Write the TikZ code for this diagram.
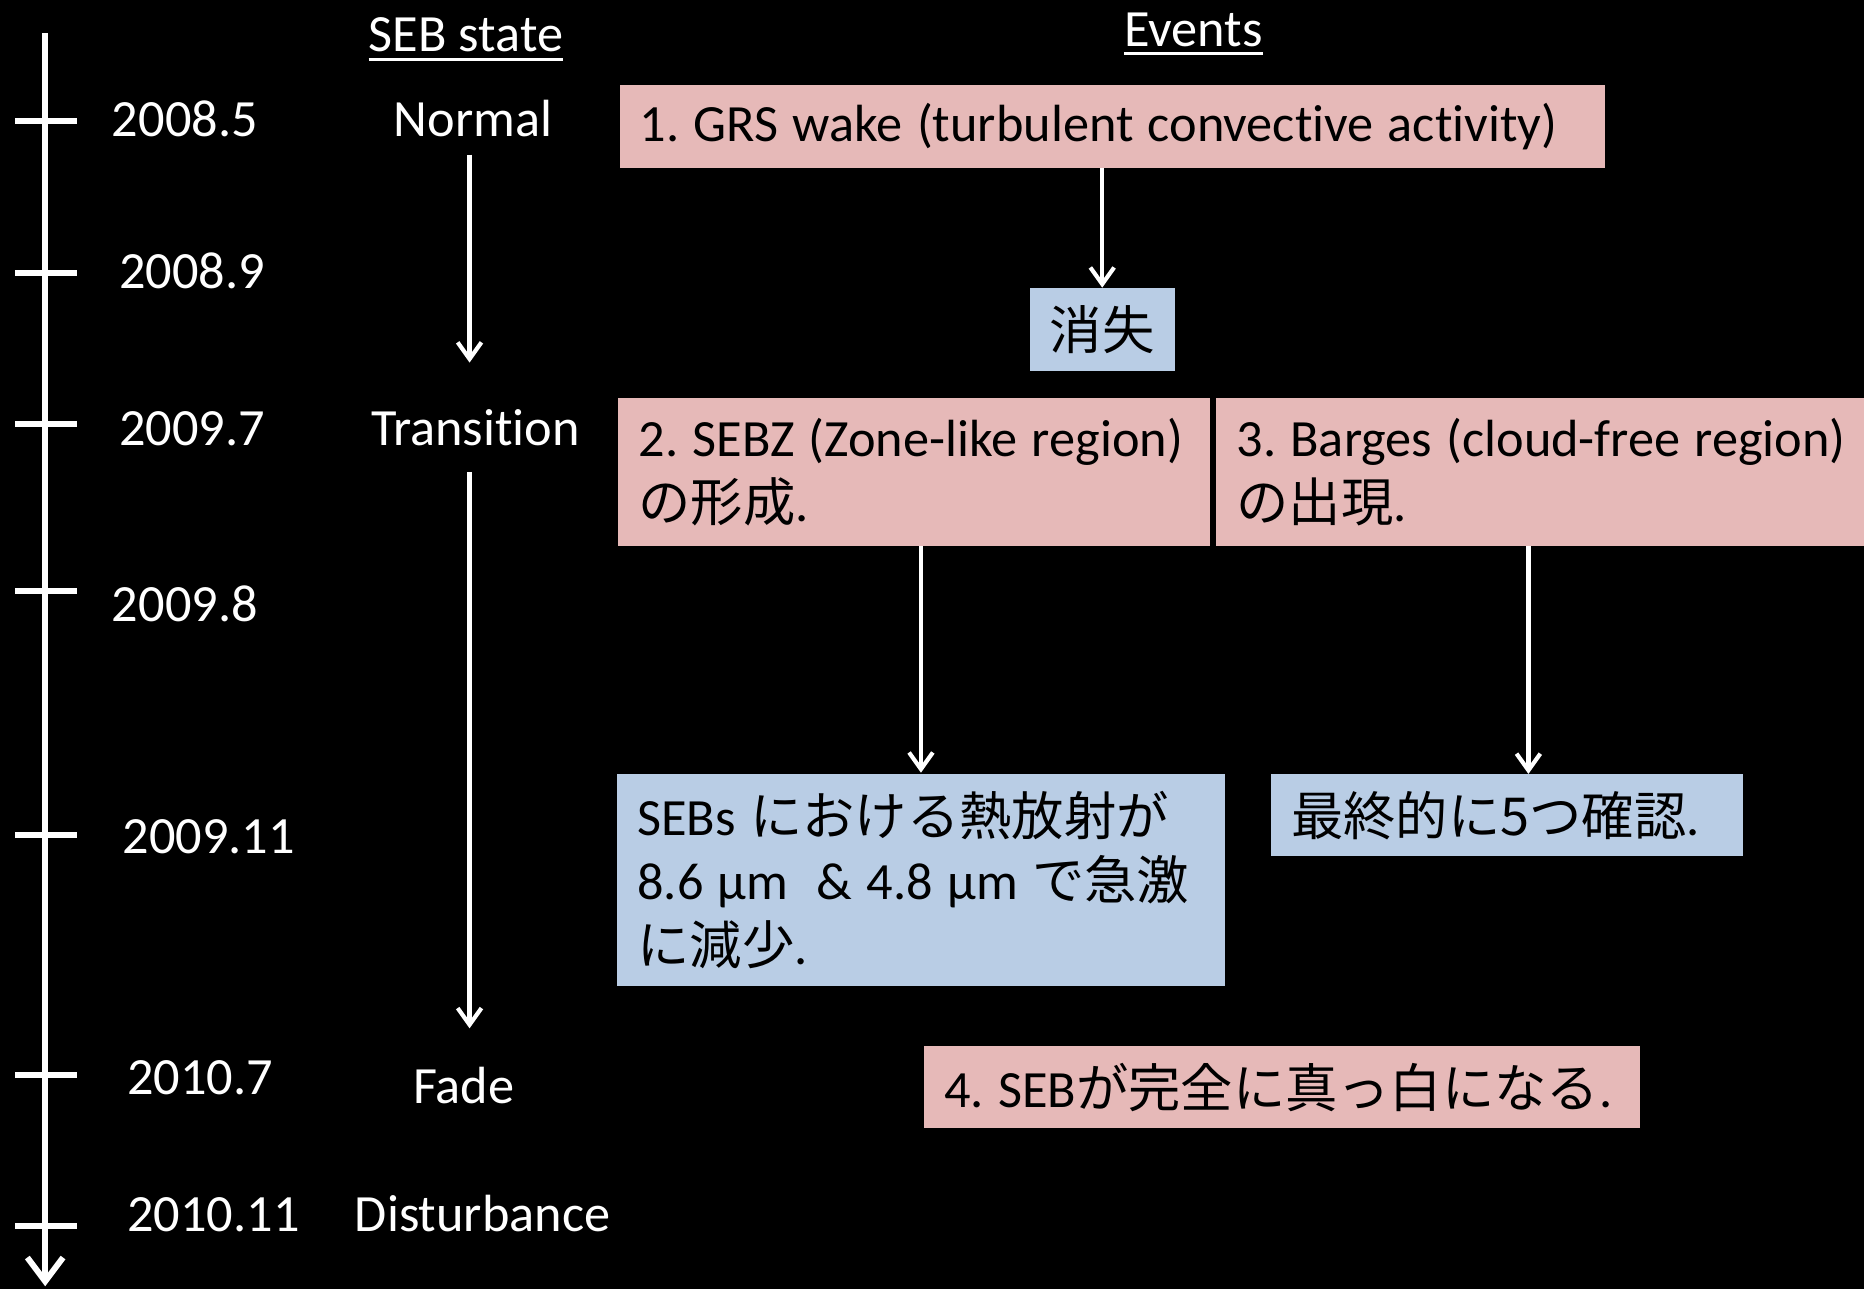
\documentclass[tikz,border=0pt]{standalone}
\usepackage{fontspec}
\setmainfont{Carlito}[Ligatures=CommonOff]
\newfontfamily\cjk{Noto Sans CJK JP}
\usetikzlibrary{arrows.meta,calc}
\definecolor{pinkbox}{HTML}{E6B9B8}
\definecolor{bluebox}{HTML}{B9CDE5}
\frenchspacing
\newcommand\tightspace{\spaceskip=12pt\relax}
\begin{document}
\begin{tikzpicture}[x=1pt,y=-1pt,
  every node/.style={font=\fontsize{44}{54.5}\selectfont},
  lbl/.style={text=white, inner sep=0pt, anchor=base},
  year/.style={text=white, inner sep=0pt, anchor=base west},
  evbox/.style={anchor=north west, inner xsep=17pt, inner ysep=0pt, align=left, text=black, execute at begin node=\tightspace},
  pinkb/.style={evbox, fill=pinkbox},
  blueb/.style={evbox, fill=bluebox},
  flow/.style={draw=white, line width=3.5pt, -{Straight Barb[length=14pt,width=20pt]}},
  axis/.style={draw=white, line width=5pt, -{Straight Barb[length=20pt,width=30pt]}},
  tick/.style={draw=white, line width=5pt},
  uline/.style={draw=white, line width=2pt}
]
\fill[black] (0,0) rectangle (1568,1084);
\useasboundingbox (0,0) rectangle (1568,1084);

% time axis
\coordinate (axtop) at (38,28);
\coordinate (axbot) at (38,1082);
\draw[axis] (axtop) -- (axbot);
\foreach \yy in {102,230,357,497,702,904,1031}
  \draw[tick] (13,\yy) -- (65,\yy);

% years
\node[year] (y1) at (94,115)  {2008.5};
\node[year] (y2) at (100,243) {2008.9};
\node[year] (y3) at (100,375) {2009.7};
\node[year] (y4) at (94,523)  {2009.8};
\node[year] (y5) at (103,718) {2009.11};
\node[year] (y6) at (107,921) {2010.7};
\node[year] (y7) at (107,1036) {2010.11};

% headers
\node[lbl] (seb) at (392,43) {SEB state};
\node[lbl] (events) at (1004,39) {Events};
\draw[uline] ([yshift=-7pt]seb.base west) -- ([yshift=-7pt]seb.base east);
\draw[uline] ([yshift=-6pt]events.base west) -- ([yshift=-6pt]events.base east);

% states
\node[lbl] (normal) at (398,115) {Normal};
\node[lbl] (trans) at (400,375) {Transition};
\node[lbl] (fade) at (390,928) {Fade};
\node[lbl] (dist) at (406,1036) {Disturbance};
\coordinate (s1a) at (395,130);
\coordinate (s1b) at (395,305);
\coordinate (s2a) at (395,397);
\coordinate (s2b) at (395,865);
\draw[flow] (s1a) -- (s1b);
\draw[flow] (s2a) -- (s2b);

% events
\node[pinkb, text width=795pt, minimum height=70pt] (box1) at (521,71)
  {\mbox{1. GRS wake (turbulent convective activity)}};
\node[fill=bluebox, text=black, inner sep=0pt, minimum width=122pt, minimum height=70pt, anchor=north west] (vanish) at (866,242)
  {\cjk 消失};
\node[pinkb, text width=464pt, minimum height=124pt] (box2) at (520,335)
  {\mbox{2. SEBZ (Zone-like region)}\\\mbox{{\cjk の形成}.}};
\node[pinkb, text width=511pt, minimum height=124pt] (box3) at (1023,335)
  {\mbox{3. Barges (cloud-free region)}\\\mbox{{\cjk の出現}.}};
\node[blueb, text width=477pt, minimum height=178pt] (res2) at (519,651)
  {\mbox{SEBs {\cjk における熱放射が}}\\\mbox{8.6 µm\ \ \& 4.8 µm {\cjk で急激}}\\\mbox{{\cjk に減少}.}};
\node[blueb, text width=363pt, minimum height=69pt] (res3) at (1069,651)
  {\mbox{{\cjk 最終的に5つ確認}.}};
\node[pinkb, text width=568pt, minimum height=69pt] (box4) at (777,880)
  {\mbox{4. SEB{\cjk が完全に真っ白になる}.}};

\draw[flow] (box1.south -| vanish.north) -- (vanish.north);
\draw[flow] (box2.south -| res2.north) -- ([yshift=1pt]res2.north);
\draw[flow] ([xshift=-10pt]box3.south) -- ([xshift=-10pt]box3.south |- res3.north);
\end{tikzpicture}
\end{document}
